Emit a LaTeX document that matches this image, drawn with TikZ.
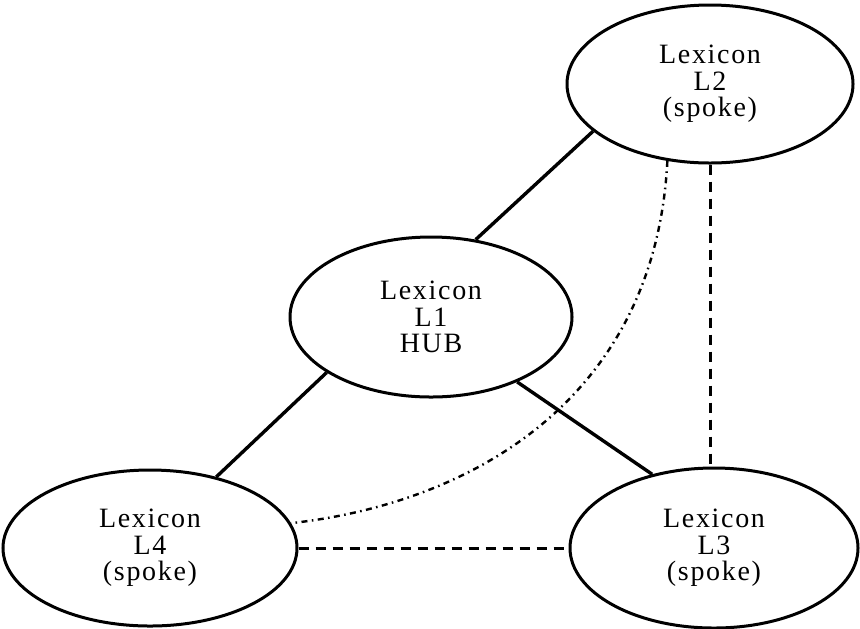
\documentclass[tikz,border=0pt]{standalone}
\usepackage{fontspec}
\setmainfont{Liberation Serif}[LetterSpace=6]
\usetikzlibrary{shapes.geometric}
\tikzset{
  lex/.style={draw, ellipse, line width=1.5pt, inner sep=0pt, align=center,
    font=\fontsize{14}{13.2}\selectfont},
  solidlink/.style={line width=1.7pt},
  dashlink/.style={line width=1.5pt, dash pattern=on 5pt off 3.5pt},
  dashdotlink/.style={line width=1.2pt, dash pattern=on 3pt off 2.2pt on 0.8pt off 2.2pt}
}
\begin{document}
\begin{tikzpicture}[x=0.5pt,y=-0.5pt]
\useasboundingbox (0,0) rectangle (860,628);
\node[lex, minimum width=143pt, minimum height=79pt] (L2) at (710,84) {Lexicon\\L2\\(spoke)};
\node[lex, minimum width=141pt, minimum height=80pt] (L1) at (431,317) {Lexicon\\L1\\HUB};
\node[lex, minimum width=147pt, minimum height=78pt] (L4) at (150,548) {Lexicon\\L4\\(spoke)};
\node[lex, minimum width=144pt, minimum height=80pt] (L3) at (714,548) {Lexicon\\L3\\(spoke)};
\draw[solidlink] (L2.202) -- (L1.60);
\draw[solidlink] (L1.208) -- (L4.47);
\draw[solidlink] (L1.323) -- (L3.130);
\draw[dashlink] (L2.south) -- (L2.south |- L3.north);
\draw[dashlink] (L4.east) -- (L3.west);
\draw[dashdotlink] (L2.241) .. controls +(-12,237) and +(182,-20) .. (L4.10);
\end{tikzpicture}
\end{document}
